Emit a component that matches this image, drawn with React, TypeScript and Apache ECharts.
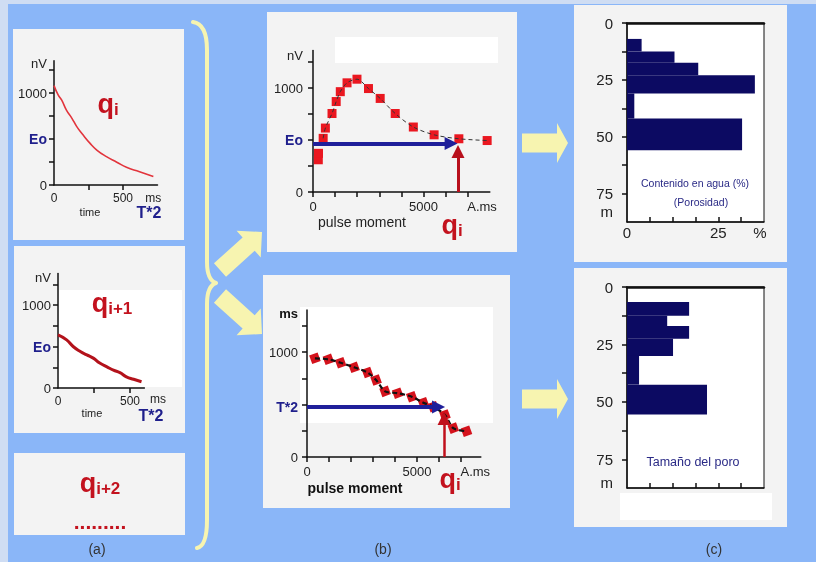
import React, { useEffect, useRef } from 'react';
import * as echarts from 'echarts';

// ---------- Panel (a): NMR decay curves ----------
const a1Time = [0, 30, 55, 90, 130, 165, 210, 260, 310, 380, 455, 525, 620, 720];
const a1Signal = [1080, 980, 925, 815, 725, 635, 545, 455, 380, 308, 248, 192, 145, 92];
const a2Time = [0, 60, 105, 155, 200, 245, 290, 340, 385, 430, 475, 525, 580];
const a2Signal = [640, 580, 500, 440, 400, 360, 300, 255, 215, 185, 135, 105, 75];

// ---------- Panel (b): sounding curves ----------
const b1Moment = [240, 250, 460, 560, 860, 1050, 1235, 1540, 1990, 2510, 3040, 3720, 4540, 5480, 6600, 7880];
const b1Amplitude = [310, 372, 516, 615, 755, 870, 965, 1050, 1085, 995, 900, 755, 625, 550, 512, 495];
const b2Moment = [360, 970, 1530, 2140, 2750, 3140, 3550, 4120, 4760, 5290, 5740, 6270, 6650, 7250];
const b2Decay = [940, 930, 898, 854, 805, 733, 625, 608, 574, 517, 479, 400, 275, 245];
const b1Eo = 467;
const b1ArrowEnd = 6250;
const b1Qi = 6560;
const b1QiTip = 390;
const b2T2 = 476;
const b2ArrowEnd = 5980;
const b2Qi = 6230;
const b2QiTip = 367;

// ---------- Panel (c): inverted layers ----------
const c1Top = [7, 12.5, 17.5, 23, 31, 42];
const c1Bottom = [12.5, 17.5, 23, 31, 42, 56];
const c1Water = [4, 13, 19.5, 35, 2, 31.5];
const c2Top = [6.5, 12.5, 17, 22.5, 30, 42.5];
const c2Bottom = [12.5, 17, 22.5, 30, 42.5, 55.5];
const c2Pore = [17, 11, 17, 12.6, 3.3, 21.9];

// ---------- Tick values / labels ----------
const signalTicks = [0, 250, 500, 750, 1000, 1250];
const timeTicks = [250, 500];
const momentTicks = [0, 1000, 2000, 3000, 4000, 5000, 6000, 7000];
const depthTicks = [0, 12.5, 25, 37.5, 50, 62.5, 75];
const pctTicks = [6.25, 12.5, 18.75, 25, 31.25];

const FONT = 'Liberation Sans, Arial, sans-serif';
const NAVY = '#0c0a62';
const RED_TXT = '#c3121e';
const BLUE_TXT = '#1f1f8c';
const YELLOW = '#f7f4b0';
const BG_BLUE = '#8ab6f8';
const PANEL = '#f3f3f3';

const labelRich = {
  e: { color: BLUE_TXT, fontWeight: 'bold', fontSize: 14, fontFamily: FONT },
  m: { color: '#111', fontWeight: 'bold', fontSize: 13, fontFamily: FONT },
};

function axis(
  gridIndex: number,
  min: number,
  max: number,
  ticks: number[],
  labelMap: Record<string, string>,
  o: { inverse?: boolean; inside?: boolean; fontSize?: number; margin?: number; position?: string; width?: number } = {}
) {
  const labelValues = Object.keys(labelMap).map(Number);
  return {
    type: 'value',
    gridIndex,
    min,
    max,
    inverse: !!o.inverse,
    position: o.position,
    axisLine: { show: true, onZero: false, lineStyle: { color: '#111', width: o.width ?? 1.5 } },
    axisTick: {
      show: true,
      inside: !!o.inside,
      length: 5,
      customValues: ticks,
      lineStyle: { color: '#111', width: 1.5 },
    },
    axisLabel: {
      show: labelValues.length > 0,
      customValues: labelValues,
      formatter: (v: number) => labelMap[String(v)] ?? '',
      color: '#222',
      fontFamily: FONT,
      fontSize: o.fontSize ?? 13,
      margin: o.margin ?? 8,
      rich: labelRich,
    },
    splitLine: { show: false },
  };
}

function fatArrow(x0: number, y0: number, x1: number, y1: number, sw: number, hw: number, hl: number) {
  const dx = x1 - x0, dy = y1 - y0;
  const L = Math.hypot(dx, dy);
  const ux = dx / L, uy = dy / L;
  const nx = -uy, ny = ux;
  const bx = x1 - ux * hl, by = y1 - uy * hl;
  return [
    [x0 + nx * sw, y0 + ny * sw],
    [bx + nx * sw, by + ny * sw],
    [bx + nx * hw, by + ny * hw],
    [x1, y1],
    [bx - nx * hw, by - ny * hw],
    [bx - nx * sw, by - ny * sw],
    [x0 - nx * sw, y0 - ny * sw],
  ];
}

function txt(x: number, y: number, text: string, size: number, color: string, bold = false, rich?: any) {
  return {
    type: 'text',
    x,
    y,
    z: 50,
    style: {
      text,
      fill: color,
      fontSize: size,
      fontWeight: bold ? 'bold' : 'normal',
      fontFamily: FONT,
      align: 'center',
      verticalAlign: 'middle',
      textAlign: 'center',
      textVerticalAlign: 'middle',
      rich,
    },
  };
}

const qRich = {
  q: { fontSize: 27, fontWeight: 'bold', fill: RED_TXT, color: RED_TXT, fontFamily: FONT, verticalAlign: 'bottom' },
  s: { fontSize: 17, fontWeight: 'bold', fill: RED_TXT, color: RED_TXT, fontFamily: FONT, verticalAlign: 'bottom' },
};

function rect(x: number, y: number, w: number, h: number, fill: string, z = -10) {
  return { type: 'rect', z, shape: { x, y, width: w, height: h }, style: { fill } };
}

const BRACE_D =
  'M193,22 Q207,24 207,50 L207,262 Q207,280 216,283 Q207,286 207,304 L207,520 Q207,546 197,548';

export default function App() {
  const ref = useRef<HTMLDivElement>(null);

  useEffect(() => {
    if (!ref.current) return;
    echarts.graphic.registerShape('brace', echarts.graphic.extendPath(BRACE_D, {}));
    const chart = echarts.init(ref.current, undefined, { renderer: 'svg' });

    const layerRender = (params: any, api: any) => {
      const p0 = api.coord([0, api.value(1)]);
      const p1 = api.coord([api.value(0), api.value(2)]);
      return {
        type: 'rect',
        shape: { x: p0[0], y: p0[1], width: p1[0] - p0[0], height: p1[1] - p0[1] },
        style: { fill: NAVY },
      };
    };

    const option: any = {
      animation: false,
      backgroundColor: 'transparent',
      grid: [
        { left: 54, top: 60.8, width: 103.5, height: 124.2, outerBoundsMode: 'none' },
        { left: 58, top: 273.5, width: 86.4, height: 114.5, outerBoundsMode: 'none' },
        { left: 313, top: 50.6, width: 176.8, height: 141.4, outerBoundsMode: 'none' },
        { left: 307, top: 310, width: 173.8, height: 147, outerBoundsMode: 'none' },
        { left: 627, top: 23, width: 137, height: 199, show: true, backgroundColor: '#fff', borderColor: '#111', borderWidth: 1, outerBoundsMode: 'none' },
        { left: 627, top: 287, width: 137, height: 201, show: true, backgroundColor: '#fff', borderColor: '#111', borderWidth: 1, outerBoundsMode: 'none' },
      ],
      xAxis: [
        axis(0, 0, 750, timeTicks, { '0': '0', '500': '500', '720': 'ms' }, { fontSize: 12, margin: 7 }),
        axis(1, 0, 600, timeTicks, { '0': '0', '500': '500' }, { fontSize: 12, margin: 7 }),
        axis(2, 0, 8000, momentTicks, { '0': '0', '5000': '5000', '7650': 'A.ms' }, { margin: 8 }),
        axis(3, 0, 7900, momentTicks, { '0': '0', '5000': '5000', '7650': 'A.ms' }, { margin: 8 }),
        axis(4, 0, 37.5, pctTicks, { '0': '0', '25': '25' }, { inside: true, fontSize: 15, margin: 3, position: 'bottom' }),
        axis(5, 0, 37.5, pctTicks, {}, { inside: true, fontSize: 15, margin: 3, position: 'bottom' }),
        { ...axis(4, 0, 37.5, [], {}, { position: 'top', width: 2.5 }), axisTick: { show: false }, axisLabel: { show: false } },
        { ...axis(5, 0, 37.5, [], {}, { position: 'top', width: 2.5 }), axisTick: { show: false }, axisLabel: { show: false } },
      ],
      yAxis: [
        axis(0, 0, 1350, signalTicks, { '0': '0', '500': '{e|Eo}', '1000': '1000', '1320': 'nV' }, { margin: 7 }),
        axis(1, 0, 1380, signalTicks, { '0': '0', '500': '{e|Eo}', '1000': '1000', '1335': 'nV' }, { margin: 7 }),
        axis(2, 0, 1360, signalTicks, { '0': '0', '500': '{e|Eo}', '1000': '1000', '1317': 'nV' }, { margin: 10 }),
        axis(3, 0, 1400, signalTicks, { '0': '0', '476': '{e|T*2}', '1000': '1000', '1370': '{m|ms}' }, { margin: 9 }),
        axis(4, 0, 87.5, depthTicks, { '0': '0', '25': '25', '50': '50', '75': '75', '83': 'm' }, { inverse: true, fontSize: 15, margin: 14 }),
        axis(5, 0, 87.5, depthTicks, { '0': '0', '25': '25', '50': '50', '75': '75', '85': 'm' }, { inverse: true, fontSize: 15, margin: 14 }),
      ],
      series: [
        {
          type: 'line',
          xAxisIndex: 0,
          yAxisIndex: 0,
          data: a1Time.map((t, i) => [t, a1Signal[i]]),
          smooth: true,
          showSymbol: false,
          lineStyle: { color: '#e2343c', width: 1.6 },
        },
        {
          type: 'line',
          xAxisIndex: 1,
          yAxisIndex: 1,
          data: a2Time.map((t, i) => [t, a2Signal[i]]),
          smooth: true,
          showSymbol: false,
          lineStyle: { color: '#b3121b', width: 3 },
        },
        {
          type: 'line',
          xAxisIndex: 2,
          yAxisIndex: 2,
          z: 3,
          data: b1Moment.slice(2).map((m, i) => [m, b1Amplitude[i + 2]]),
          smooth: 0.3,
          showSymbol: false,
          lineStyle: { color: '#333', width: 1, type: [4, 3] },
          markLine: {
            silent: true,
            symbol: ['none', 'triangle'],
            symbolSize: 13,
            label: { show: false },
            lineStyle: { color: '#b8101c', width: 3, type: 'solid' },
            itemStyle: { color: '#b8101c' },
            data: [[{ coord: [b1Qi, 0] }, { coord: [b1Qi, b1QiTip] }]],
          },
        },
        {
          type: 'scatter',
          xAxisIndex: 2,
          yAxisIndex: 2,
          data: b1Moment.map((m, i) => [m, b1Amplitude[i]]),
          symbol: 'rect',
          symbolSize: 9,
          itemStyle: { color: '#ea1720', opacity: 1 },
          markLine: {
            silent: true,
            symbol: ['none', 'triangle'],
            symbolSize: 13,
            label: { show: false },
            lineStyle: { color: '#1f1f9a', width: 4, type: 'solid' },
            itemStyle: { color: '#1f1f9a' },
            data: [[{ coord: [0, b1Eo] }, { coord: [b1ArrowEnd, b1Eo] }]],
          },
        },
        {
          type: 'line',
          xAxisIndex: 3,
          yAxisIndex: 3,
          z: 3,
          data: b2Moment.map((m, i) => [m, b2Decay[i]]),
          smooth: 0.3,
          showSymbol: false,
          lineStyle: { color: '#111', width: 2.2, type: [5, 3] },
          markLine: {
            silent: true,
            symbol: ['none', 'triangle'],
            symbolSize: 13,
            label: { show: false },
            lineStyle: { color: '#c0101c', width: 2.5, type: 'solid' },
            itemStyle: { color: '#c0101c' },
            data: [[{ coord: [b2Qi, 0] }, { coord: [b2Qi, b2QiTip] }]],
          },
        },
        {
          type: 'scatter',
          xAxisIndex: 3,
          yAxisIndex: 3,
          data: b2Moment.map((m, i) => [m, b2Decay[i]]),
          symbol: 'rect',
          symbolSize: 9,
          symbolRotate: 20,
          itemStyle: { color: '#d4121c', opacity: 1 },
          markLine: {
            silent: true,
            symbol: ['none', 'triangle'],
            symbolSize: 13,
            label: { show: false },
            lineStyle: { color: '#1f1f9a', width: 4, type: 'solid' },
            itemStyle: { color: '#1f1f9a' },
            data: [[{ coord: [0, b2T2] }, { coord: [b2ArrowEnd, b2T2] }]],
          },
        },
        {
          type: 'custom',
          xAxisIndex: 4,
          yAxisIndex: 4,
          data: c1Water.map((w, i) => [w, c1Top[i], c1Bottom[i]]),
          encode: { x: 0, y: [1, 2] },
          renderItem: layerRender,
        },
        {
          type: 'custom',
          xAxisIndex: 5,
          yAxisIndex: 5,
          data: c2Pore.map((w, i) => [w, c2Top[i], c2Bottom[i]]),
          encode: { x: 0, y: [1, 2] },
          renderItem: layerRender,
        },
      ],
      graphic: [
        rect(0, 0, 816, 562, '#cfddf3', -30),
        rect(8, 4, 808, 558, BG_BLUE, -29),
        // panels
        rect(13, 29, 171, 211, PANEL),
        rect(14, 246, 171, 187, PANEL),
        rect(14, 453, 171, 82, PANEL),
        rect(267, 12, 250, 240, PANEL),
        rect(263, 275, 247, 233, PANEL),
        rect(574, 5, 213, 257, PANEL),
        rect(574, 268, 213, 259, PANEL),
        // white inner areas
        rect(335, 37, 163, 26, '#ffffff', -9),
        rect(57, 290, 125, 97, '#ffffff', -9),
        rect(300, 307, 193, 116, '#ffffff', -9),
        rect(620, 493, 152, 27, '#ffffff', -9),
        // brace
        {
          type: 'brace',
          x: 0,
          y: 0,
          scaleX: 1,
          scaleY: 1,
          z: 5,
          style: { stroke: YELLOW, fill: 'none', lineWidth: 4, lineCap: 'round', lineJoin: 'round' },
        },
        // fat arrows
        { type: 'polygon', z: 5, shape: { points: fatArrow(220, 270, 262, 232, 9, 18, 18) }, style: { fill: YELLOW } },
        { type: 'polygon', z: 5, shape: { points: fatArrow(220, 296, 262, 334, 9, 18, 18) }, style: { fill: YELLOW } },
        { type: 'polygon', z: 5, shape: { points: fatArrow(522, 143, 568, 143, 9.5, 20, 11) }, style: { fill: YELLOW } },
        { type: 'polygon', z: 5, shape: { points: fatArrow(522, 399, 568, 399, 9.5, 20, 11) }, style: { fill: YELLOW } },
        // texts panel (a)
        txt(108, 104, '{q|q}{s|i}', 24, RED_TXT, true, qRich),
        txt(90, 212, 'time', 11, '#222'),
        txt(149, 212, 'T*2', 16, BLUE_TXT, true),
        txt(112, 303, '{q|q}{s|i+1}', 24, RED_TXT, true, qRich),
        txt(158, 399, 'ms', 12, '#222'),
        txt(92, 413, 'time', 11, '#222'),
        txt(151, 415, 'T*2', 16, BLUE_TXT, true),
        txt(100, 483, '{q|q}{s|i+2}', 24, RED_TXT, true, qRich),
        txt(100, 521, '.........', 21, RED_TXT, true),
        // texts panel (b)
        txt(362, 222, 'pulse moment', 14, '#222'),
        txt(452, 225, '{q|q}{s|i}', 24, RED_TXT, true, qRich),
        txt(355, 488, 'pulse moment', 14, '#111', true),
        txt(450, 479, '{q|q}{s|i}', 24, RED_TXT, true, qRich),
        // texts panel (c)
        txt(695, 183, 'Contenido en agua (%)', 10.5, '#2a2a86'),
        txt(701, 202, '(Porosidad)', 10.5, '#2a2a86'),
        txt(760, 232, '%', 15, '#222'),
        txt(693, 462, 'Tamaño del poro', 12.5, '#2a2a86'),
        // captions
        txt(97, 549, '(a)', 14, '#333'),
        txt(383, 549, '(b)', 14, '#333'),
        txt(714, 549, '(c)', 14, '#333'),
      ],
    };

    chart.setOption(option);
    return () => chart.dispose();
  }, []);

  return <div ref={ref} style={{ position: 'fixed', left: 0, top: 0, width: 816, height: 562 }} />;
}
